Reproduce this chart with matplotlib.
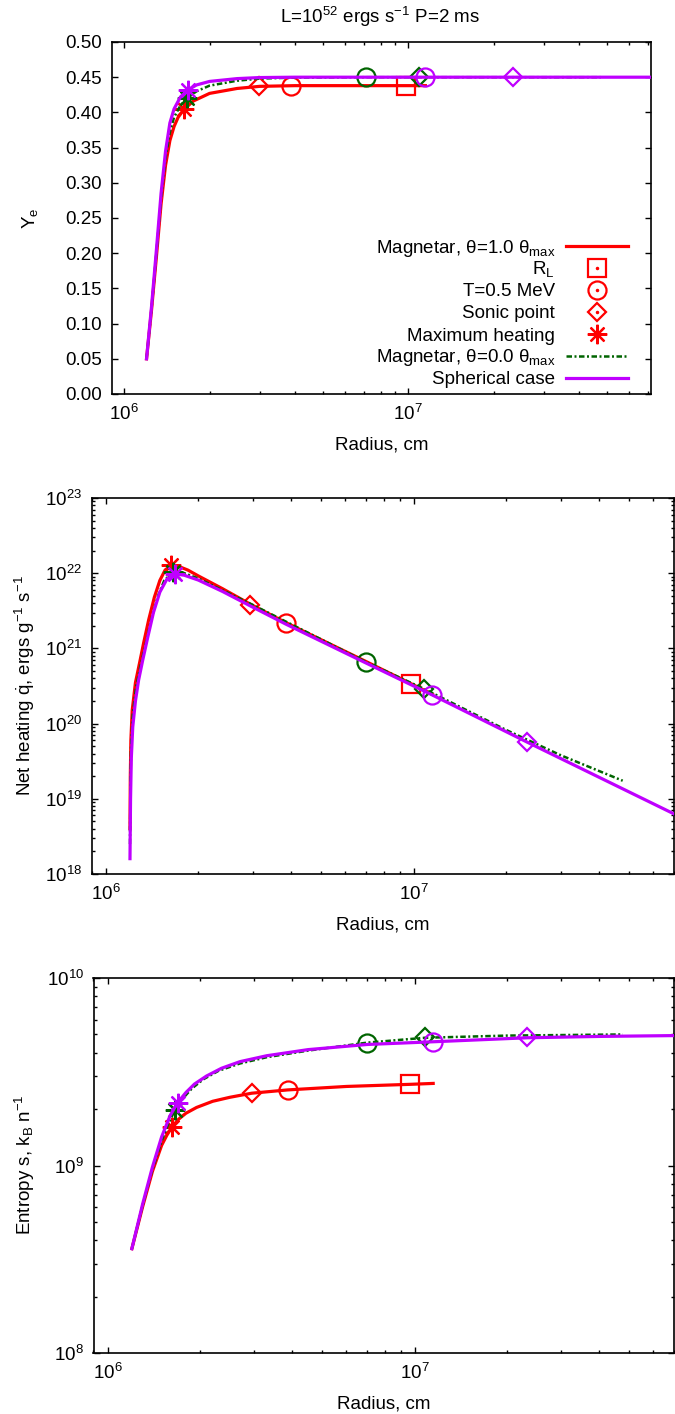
import matplotlib.pyplot as plt
from matplotlib.lines import Line2D
from matplotlib.ticker import LogLocator, MultipleLocator, FormatStrFormatter, NullFormatter

plt.rcParams['font.family'] = ['Liberation Sans', 'DejaVu Sans']
plt.rcParams['mathtext.fontset'] = 'custom'
plt.rcParams['mathtext.rm'] = 'Liberation Sans'
plt.rcParams['mathtext.it'] = 'Liberation Sans:italic'
plt.rcParams['mathtext.default'] = 'regular'
plt.rcParams['font.size'] = 13.5

RED, GREEN, VIOLET = '#ff0000', '#006400', '#bf00ff'

# ---- panel 1: electron fraction Ye ----
r_ye_m1 = [1.2e6, 1.25e6, 1.3e6, 1.35e6, 1.4e6, 1.45e6, 1.5e6, 1.55e6, 1.63e6, 1.75e6, 2.0e6, 2.5e6, 3.0e6, 4.0e6, 6e6, 1.0e7, 1.15e7]
ye_m1 = [0.05, 0.12, 0.195, 0.27, 0.325, 0.36, 0.38, 0.393, 0.405, 0.416, 0.427, 0.434, 0.437, 0.438, 0.438, 0.438, 0.438]
r_ye_m0 = [1.2e6, 1.25e6, 1.3e6, 1.35e6, 1.4e6, 1.45e6, 1.5e6, 1.58e6, 1.66e6, 1.8e6, 2.0e6, 2.5e6, 3.0e6, 4.0e6, 7e6, 4.77e7]
ye_m0 = [0.05, 0.122, 0.2, 0.278, 0.335, 0.372, 0.393, 0.41, 0.42, 0.43, 0.438, 0.445, 0.448, 0.4495, 0.45, 0.45]
r_ye_sph = [1.2e6, 1.25e6, 1.3e6, 1.35e6, 1.4e6, 1.45e6, 1.5e6, 1.58e6, 1.68e6, 1.8e6, 2.0e6, 2.5e6, 3.0e6, 4.0e6, 1e7, 7.2e7]
ye_sph = [0.05, 0.125, 0.205, 0.285, 0.345, 0.385, 0.405, 0.422, 0.432, 0.439, 0.444, 0.448, 0.4495, 0.45, 0.45, 0.45]

# markers: (radius, value) for R_L, T=0.5 MeV, sonic point, max heating
ye_pts_m1 = {'s': (9.8e6, 0.437), 'o': (3.88e6, 0.438), 'D': (2.98e6, 0.437), '*': (1.63e6, 0.405)}
ye_pts_m0 = {'o': (7.08e6, 0.45), 'D': (1.09e7, 0.45), '*': (1.66e6, 0.42)}
ye_pts_sph = {'o': (1.15e7, 0.45), 'D': (2.34e7, 0.45), '*': (1.68e6, 0.432)}

# ---- panel 2: net heating ----
r_q_m1 = [1.2e6, 1.203e6, 1.208e6, 1.22e6, 1.25e6, 1.29e6, 1.33e6, 1.38e6, 1.44e6, 1.5e6, 1.56e6, 1.63e6, 1.72e6, 1.85e6, 2.0e6, 2.4e6, 2.94e6, 3.85e6, 7e6, 9.8e6, 1.15e7]
q_m1 = [4e18, 2e19, 6e19, 1.5e20, 3.5e20, 6.5e20, 1.2e21, 2.4e21, 4.8e21, 8e21, 1.1e22, 1.27e22, 1.24e22, 1.1e22, 9.2e21, 6.2e21, 3.9e21, 2.2e21, 6.7e20, 3.4e20, 2.45e20]
r_q_m0 = [1.2e6, 1.204e6, 1.21e6, 1.225e6, 1.255e6, 1.3e6, 1.35e6, 1.41e6, 1.48e6, 1.55e6, 1.66e6, 1.78e6, 2.0e6, 3.0e6, 7e6, 1.08e7, 2e7, 3e7, 4.77e7]
q_m0 = [2.5e18, 1.5e19, 5e19, 1.3e20, 3e20, 6e20, 1.15e21, 2.5e21, 5e21, 8e21, 1.05e22, 1.02e22, 8.5e21, 3.8e21, 6.6e20, 2.9e20, 8.2e19, 3.8e19, 1.74e19]
r_q_sph = [1.2e6, 1.205e6, 1.212e6, 1.225e6, 1.25e6, 1.28e6, 1.32e6, 1.37e6, 1.43e6, 1.5e6, 1.58e6, 1.68e6, 1.8e6, 2.0e6, 2.4e6, 2.94e6, 3.85e6, 7e6, 1.15e7, 2.33e7, 7e7]
q_sph = [1.6e18, 1e19, 3.5e19, 9e19, 2e20, 3.8e20, 7e20, 1.4e21, 3e21, 5.6e21, 8.3e21, 9.8e21, 9.4e21, 8.1e21, 5.7e21, 3.7e21, 2.1e21, 6.4e20, 2.4e20, 5.7e19, 6.3e18]

q_pts_m1 = {'s': (9.8e6, 3.4e20), 'o': (3.85e6, 2.2e21), 'D': (2.94e6, 3.8e21), '*': (1.63e6, 1.3e22)}
q_pts_m0 = {'o': (7e6, 6.6e20), 'D': (1.08e7, 2.9e20), '*': (1.66e6, 1.05e22)}
q_pts_sph = {'o': (1.15e7, 2.4e20), 'D': (2.33e7, 5.7e19), '*': (1.68e6, 9.8e21)}

# ---- panel 3: entropy ----
r_s_m1 = [1.2e6, 1.3e6, 1.4e6, 1.5e6, 1.56e6, 1.62e6, 1.7e6, 1.8e6, 1.95e6, 2.2e6, 2.5e6, 2.95e6, 3.86e6, 6e6, 9.7e6, 1.15e7]
s_m1 = [3.6e8, 6.0e8, 9.3e8, 1.28e9, 1.45e9, 1.6e9, 1.76e9, 1.9e9, 2.04e9, 2.2e9, 2.31e9, 2.43e9, 2.53e9, 2.64e9, 2.71e9, 2.74e9]
r_s_m0 = [1.2e6, 1.3e6, 1.4e6, 1.5e6, 1.58e6, 1.66e6, 1.76e6, 1.88e6, 2.05e6, 2.3e6, 2.7e6, 3.3e6, 4.5e6, 7e6, 1.08e7, 2e7, 4.77e7]
s_m0 = [3.6e8, 6.1e8, 9.5e8, 1.35e9, 1.68e9, 1.98e9, 2.28e9, 2.57e9, 2.88e9, 3.2e9, 3.5e9, 3.78e9, 4.1e9, 4.52e9, 4.8e9, 4.93e9, 5.0e9]
r_s_sph = [1.2e6, 1.3e6, 1.4e6, 1.5e6, 1.6e6, 1.69e6, 1.8e6, 1.92e6, 2.1e6, 2.35e6, 2.7e6, 3.3e6, 4.5e6, 7e6, 1.15e7, 2.33e7, 4e7, 7e7]
s_sph = [3.6e8, 6.2e8, 9.8e8, 1.42e9, 1.85e9, 2.16e9, 2.45e9, 2.72e9, 3.0e9, 3.3e9, 3.58e9, 3.85e9, 4.15e9, 4.42e9, 4.57e9, 4.8e9, 4.88e9, 4.93e9]

s_pts_m1 = {'s': (9.7e6, 2.71e9), 'o': (3.86e6, 2.53e9), 'D': (2.95e6, 2.43e9), '*': (1.62e6, 1.6e9)}
s_pts_m0 = {'o': (6.98e6, 4.52e9), 'D': (1.08e7, 4.86e9), '*': (1.66e6, 1.98e9)}
s_pts_sph = {'o': (1.15e7, 4.57e9), 'D': (2.33e7, 4.84e9), '*': (1.69e6, 2.16e9)}

legend_labels = [r'Magnetar, θ=1.0 θ$_{\rm max}$', r'R$_{\rm L}$', 'T=0.5 MeV', 'Sonic point',
                 'Maximum heating', r'Magnetar, θ=0.0 θ$_{\rm max}$', 'Spherical case']

W, H = 675, 1414
fig = plt.figure(figsize=(W / 100, H / 100), dpi=100)


def px_axes(left, top, right, bottom):
    return fig.add_axes([left / W, 1 - bottom / H, (right - left) / W, (bottom - top) / H])


MARK = {'s': dict(marker='s', ms=13), 'o': dict(marker='o', ms=13),
        'D': dict(marker='D', ms=9.3), '*': dict(marker=(8, 2, 0), ms=14)}
LW = 2.3
GREEN_LS = (0, (2.2, 1.0, 0.8, 1.0))


def draw(ax, r, v, pts, color, ls, lw, z):
    ax.plot(r, v, color=color, ls=ls, lw=lw, zorder=z)
    for m, (x, y) in pts.items():
        ax.plot([x], [y], ls='none', mfc='none', mec=color, mew=1.6, zorder=z + 0.5, **MARK[m])


def style(ax, xlim):
    ax.set_xscale('log')
    ax.set_xlim(*xlim)
    ax.xaxis.set_major_locator(LogLocator(base=10, numticks=10))
    ax.xaxis.set_minor_locator(LogLocator(base=10, subs=range(2, 10), numticks=20))
    ax.xaxis.set_minor_formatter(NullFormatter())
    ax.tick_params(which='both', direction='in', top=True, right=True, width=1.0, color='black')
    ax.tick_params(which='major', length=4.5, pad=7, labelsize=13.5)
    ax.tick_params(which='minor', length=2.5)
    for sp in ax.spines.values():
        sp.set_linewidth(1.2)
    ax.set_xlabel('Radius, cm', fontsize=13.5, labelpad=9)


# panel 1
ax1 = px_axes(112, 42, 651, 394)
draw(ax1, r_ye_m1, ye_m1, ye_pts_m1, RED, '-', LW, 2)
draw(ax1, r_ye_m0, ye_m0, ye_pts_m0, GREEN, GREEN_LS, 1.8, 3)
draw(ax1, r_ye_sph, ye_sph, ye_pts_sph, VIOLET, '-', LW, 4)
style(ax1, (9.07e5, 7.16e7))
ax1.set_ylim(0, 0.5)
ax1.yaxis.set_major_locator(MultipleLocator(0.05))
ax1.yaxis.set_major_formatter(FormatStrFormatter('%.2f'))

# key, gnuplot style: text right-aligned, sample on the right
rows_y = [0.420, 0.358, 0.2955, 0.233, 0.170, 0.108, 0.0455]
key_kind = [('line', RED, '-'), ('s', RED, None), ('o', RED, None), ('D', RED, None),
            ('*', RED, None), ('line', GREEN, GREEN_LS), ('line', VIOLET, '-')]
for y, lab, (kind, col, ls) in zip(rows_y, legend_labels, key_kind):
    ax1.text(0.822, y - 0.0185, lab, transform=ax1.transAxes, ha='right', va='baseline', fontsize=13.5)
    if kind == 'line':
        ax1.add_line(Line2D([0.843, 0.957], [y, y], transform=ax1.transAxes, color=col, ls=ls,
                            lw=1.8 if col == GREEN else LW, clip_on=False))
    else:
        ax1.add_line(Line2D([0.900], [y], transform=ax1.transAxes, ls='none', mfc='none', mec=col,
                            mew=1.6, clip_on=False, **MARK[kind]))
        if kind != '*':
            ax1.add_line(Line2D([0.900], [y], transform=ax1.transAxes, ls='none', marker='.',
                                ms=3, color=col, clip_on=False))

# panel 2
ax2 = px_axes(91.5, 498, 674, 874)
draw(ax2, r_q_m1, q_m1, q_pts_m1, RED, '-', LW, 2)
draw(ax2, r_q_m0, q_m0, q_pts_m0, GREEN, GREEN_LS, 1.8, 3)
draw(ax2, r_q_sph, q_sph, q_pts_sph, VIOLET, '-', LW, 4)
style(ax2, (9.0e5, 7.0e7))
ax2.set_yscale('log')
ax2.set_ylim(1e18, 1e23)
ax2.yaxis.set_major_locator(LogLocator(base=10, numticks=10))
ax2.yaxis.set_minor_locator(LogLocator(base=10, subs=range(2, 10), numticks=20))
ax2.yaxis.set_minor_formatter(NullFormatter())

# panel 3
ax3 = px_axes(93.5, 978, 674, 1353)
draw(ax3, r_s_m1, s_m1, s_pts_m1, RED, '-', LW, 2)
draw(ax3, r_s_m0, s_m0, s_pts_m0, GREEN, GREEN_LS, 1.8, 3)
draw(ax3, r_s_sph, s_sph, s_pts_sph, VIOLET, '-', LW, 4)
style(ax3, (9.0e5, 7.0e7))
ax3.set_yscale('log')
ax3.set_ylim(1e8, 1e10)
ax3.yaxis.set_major_locator(LogLocator(base=10, numticks=10))
ax3.yaxis.set_minor_locator(LogLocator(base=10, subs=range(2, 10), numticks=20))
ax3.yaxis.set_minor_formatter(NullFormatter())

# titles and y labels (figure pixel positions)
fig.text(380 / W, 1 - 17 / H, r'L=10$^{52}$ ergs s$^{-1}$ P=2 ms', ha='center', va='center', fontsize=13.5)
fig.text(30 / W, 1 - 218 / H, r'Y$_{\rm e}$', rotation=90, ha='center', va='center', fontsize=13.5)
fig.text(25 / W, 1 - 686 / H, r'Net heating $\dot{\rm q}$, ergs g$^{-1}$ s$^{-1}$', rotation=90,
         ha='center', va='center', fontsize=13.5)
fig.text(25 / W, 1 - 1165 / H, r'Entropy s, k$_{\rm B}$ n$^{-1}$', rotation=90,
         ha='center', va='center', fontsize=13.5)

fig.savefig('out.png', dpi=100)
